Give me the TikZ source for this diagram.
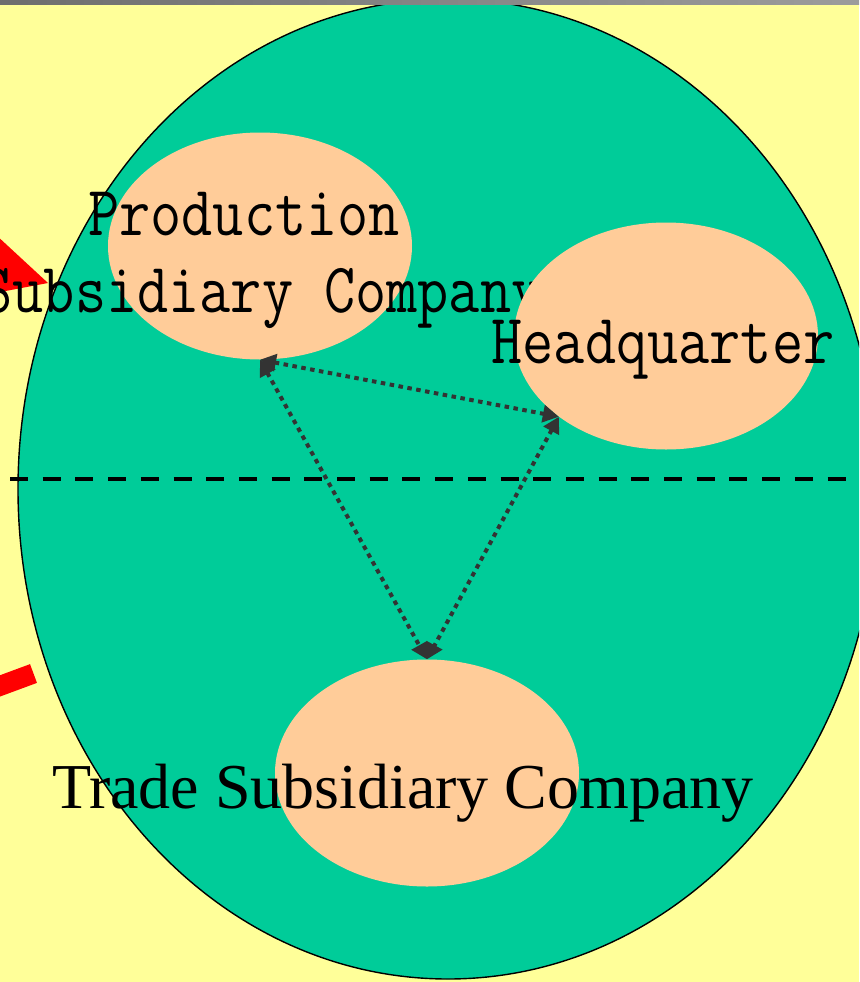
\documentclass[tikz,border=0pt]{standalone}
\usepackage{fontspec}
\newfontfamily\trfont{Liberation Serif}
\usetikzlibrary{shapes.geometric,arrows.meta}
\definecolor{bgyellow}{HTML}{FFFF99}
\definecolor{outergreen}{HTML}{00CC99}
\definecolor{innerorange}{HTML}{FFCC99}
\definecolor{linkgray}{HTML}{333333}
\definecolor{barleft}{HTML}{6E6E6E}
\definecolor{barright}{HTML}{9C9C9C}
\tikzset{
  outerell/.style={ellipse, draw=black, line width=1.4pt, fill=outergreen,
    minimum width=860pt, minimum height=980pt, inner sep=0pt},
  unit/.style={ellipse, fill=innerorange, minimum width=304pt,
    minimum height=227pt, inner sep=0pt},
  divider/.style={draw=black, line width=4pt, dash pattern=on 18pt off 14.7pt},
  link/.style={draw=linkgray, line width=4pt, dash pattern=on 4.5pt off 4.5pt,
    {Triangle[length=16pt,width=17pt]}-{Triangle[length=16pt,width=17pt]}},
  monotext/.style={inner sep=0pt, anchor=base,
    font=\fontsize{60.5}{60}\selectfont\ttfamily},
  serftext/.style={inner sep=0pt, anchor=base,
    font=\fontsize{64}{64}\selectfont\trfont},
  redmark/.style={fill=red, draw=none}
}
\begin{document}
\begin{tikzpicture}[x=1pt,y=-1pt]
\useasboundingbox (0,0) rectangle (859,982);
\clip (0,0) rectangle (859,982);
\fill[bgyellow] (0,0) rectangle (859,982);
% red arrow fragments at the left edge
\fill[redmark] (-5,234) -- (48,283) -- (-5,293) -- cycle;
\coordinate (redA) at (33.5,673.5);
\coordinate (redB) at (-30,697);
\draw[red, line width=20pt] (redA) -- (redB);
% group ellipse
\node[outerell] (group) at (448,489) {};
% divider line
\coordinate (dashL) at (10,479);
\coordinate (dashR) at (900,479);
\draw[divider] (dashL) -- (dashR);
% member ellipses with their labels
\node[unit] (prod) at (260,246) {};
\node[monotext] (prodA) at (244,235) {\scalebox{1}[1.17]{Production}};
\node[monotext] (prodB) at (262,312) {\scalebox{1}[1.17]{Subsidiary Company}};
\node[unit] (hq) at (666,336) {};
\node[monotext] (hqtext) at (663,363) {\scalebox{1}[1.17]{Headquarter}};
\node[unit] (trade) at (427,773) {};
\node[serftext] (tradetext) at (403,808) {Trade Subsidiary Company};
% links
\draw[link] (prod.south) -- (hq.217);
\draw[link] (prod.south) -- (trade.north);
\draw[link] (hq.217) -- (trade.north);
% top bar
\shade[left color=barleft, right color=barright] (0,0) rectangle (859,4.5);
\end{tikzpicture}
\end{document}
